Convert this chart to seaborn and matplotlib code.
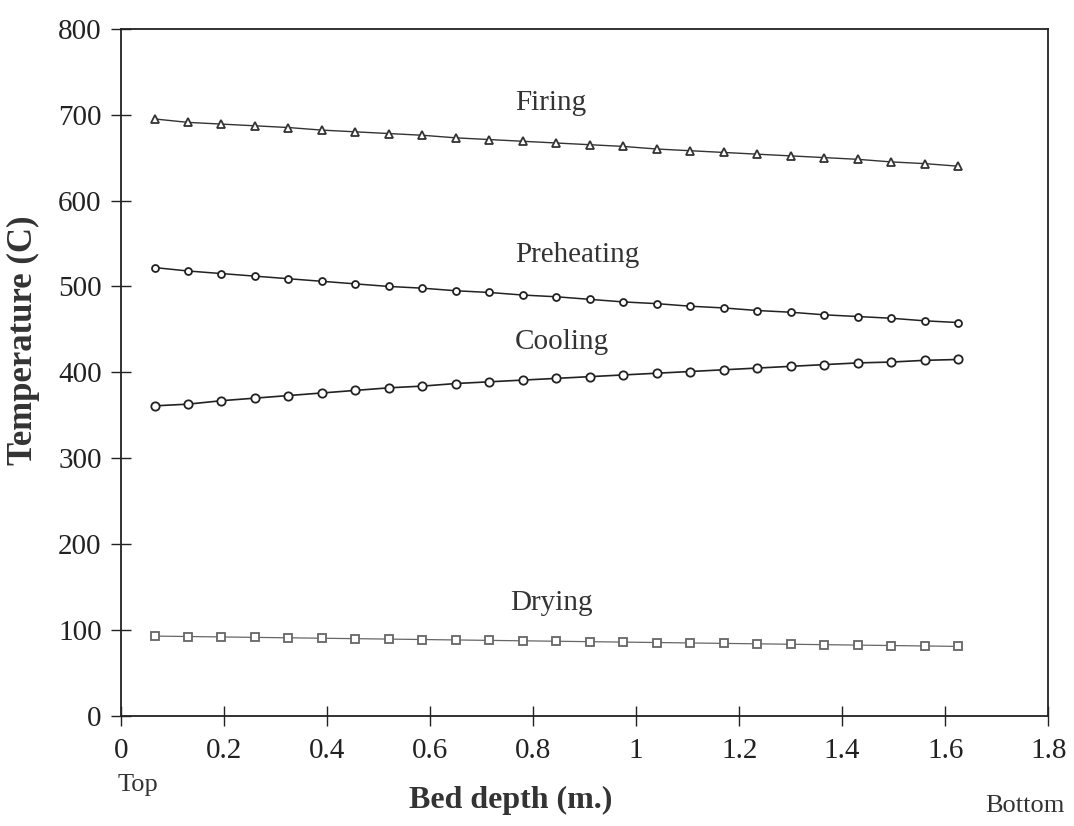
import numpy as np
import pandas as pd
import matplotlib
matplotlib.use("Agg")
import matplotlib.pyplot as plt
import seaborn as sns

# Bed depth positions (m) of the computed nodes
depth = [0.065, 0.130, 0.195, 0.260, 0.325, 0.390, 0.455, 0.520, 0.585,
         0.650, 0.715, 0.780, 0.845, 0.910, 0.975, 1.040, 1.105, 1.170,
         1.235, 1.300, 1.365, 1.430, 1.495, 1.560, 1.625]

# Gas temperature (C) in each zone
firing = [695, 691, 689, 687, 685, 682, 680, 678, 676, 673, 671, 669, 667,
          665, 663, 660, 658, 656, 654, 652, 650, 648, 645, 643, 640]
preheating = [522, 518, 515, 512, 509, 506, 503, 500, 498, 495, 493, 490, 488,
              485, 482, 480, 477, 475, 472, 470, 467, 465, 463, 460, 458]
cooling = [361, 363, 367, 370, 373, 376, 379, 382, 384, 387, 389, 391, 393,
           395, 397, 399, 401, 403, 405, 407, 409, 411, 412, 414, 415]
drying = [93, 92.5, 92, 91.5, 91, 90.5, 90, 89.5, 89, 88.5, 88, 87.5, 87,
          86.5, 86, 85.5, 85, 84.5, 84, 83.5, 83, 82.5, 82, 81.5, 81]

zones = ["Firing", "Preheating", "Cooling", "Drying"]
x_ticks = [0, 0.2, 0.4, 0.6, 0.8, 1, 1.2, 1.4, 1.6, 1.8]
x_tick_labels = ["0", "0.2", "0.4", "0.6", "0.8", "1", "1.2", "1.4", "1.6", "1.8"]
y_ticks = [0, 100, 200, 300, 400, 500, 600, 700, 800]

df = pd.DataFrame({
    "depth": depth * 4,
    "temp": firing + preheating + cooling + drying,
    "zone": sum([[z] * len(depth) for z in zones], []),
})

sns.set_theme(style="white")
plt.rcParams["font.family"] = ["Liberation Serif", "DejaVu Serif"]

fig = plt.figure(figsize=(10.74, 8.26), dpi=100)
ax = fig.add_axes([0.1127, 0.1332, 0.8633, 0.8320])

styles = {
    "Firing": dict(marker="^", ms=5.5, lw=1.0, color="#333333"),
    "Preheating": dict(marker="o", ms=5, lw=1.1, color="#222222"),
    "Cooling": dict(marker="o", ms=6, lw=1.2, color="#222222"),
    "Drying": dict(marker="s", ms=5.5, lw=0.9, color="#666666"),
}
for z in zones:
    st = styles[z]
    sns.lineplot(data=df[df["zone"] == z], x="depth", y="temp", ax=ax,
                 color=st["color"], lw=st["lw"], marker=st["marker"],
                 markersize=st["ms"], markerfacecolor="white",
                 markeredgecolor=st["color"], markeredgewidth=1.3,
                 legend=False)

ax.set_xlim(0, 1.8)
ax.set_ylim(0, 800)
ax.set_xticks(x_ticks)
ax.set_xticklabels(x_tick_labels)
ax.set_yticks(y_ticks)
ax.tick_params(axis="both", direction="inout", length=14, width=1.0,
               labelsize=21, colors="#222222", left=True, bottom=True)
ax.tick_params(axis="x", pad=9)
ax.tick_params(axis="y", pad=7)
for s in ax.spines.values():
    s.set_color("#222222")
    s.set_linewidth(1.3)

ax.set_xlabel("Bed depth (m.)", fontsize=23, fontweight="bold", color="#333333")
ax.set_ylabel("Temperature (C)", fontsize=25, fontweight="bold", color="#333333")
ax.xaxis.set_label_coords(0.42, -0.102)
ax.yaxis.set_label_coords(-0.087, 0.546)

# Zone names above each curve
label_pos = {"Firing": (0.765, 714), "Preheating": (0.765, 537),
             "Cooling": (0.765, 435), "Drying": (0.755, 132)}
for z, (xx, yy) in label_pos.items():
    ax.text(xx, yy, z, fontsize=21, color="#333333", ha="left", va="center")

fig.text(0.128, 0.050, "Top", fontsize=19, color="#333333", ha="center", va="center")
fig.text(0.954, 0.024, "Bottom", fontsize=19, color="#333333", ha="center", va="center")

fig.savefig("out.png", dpi=100)
